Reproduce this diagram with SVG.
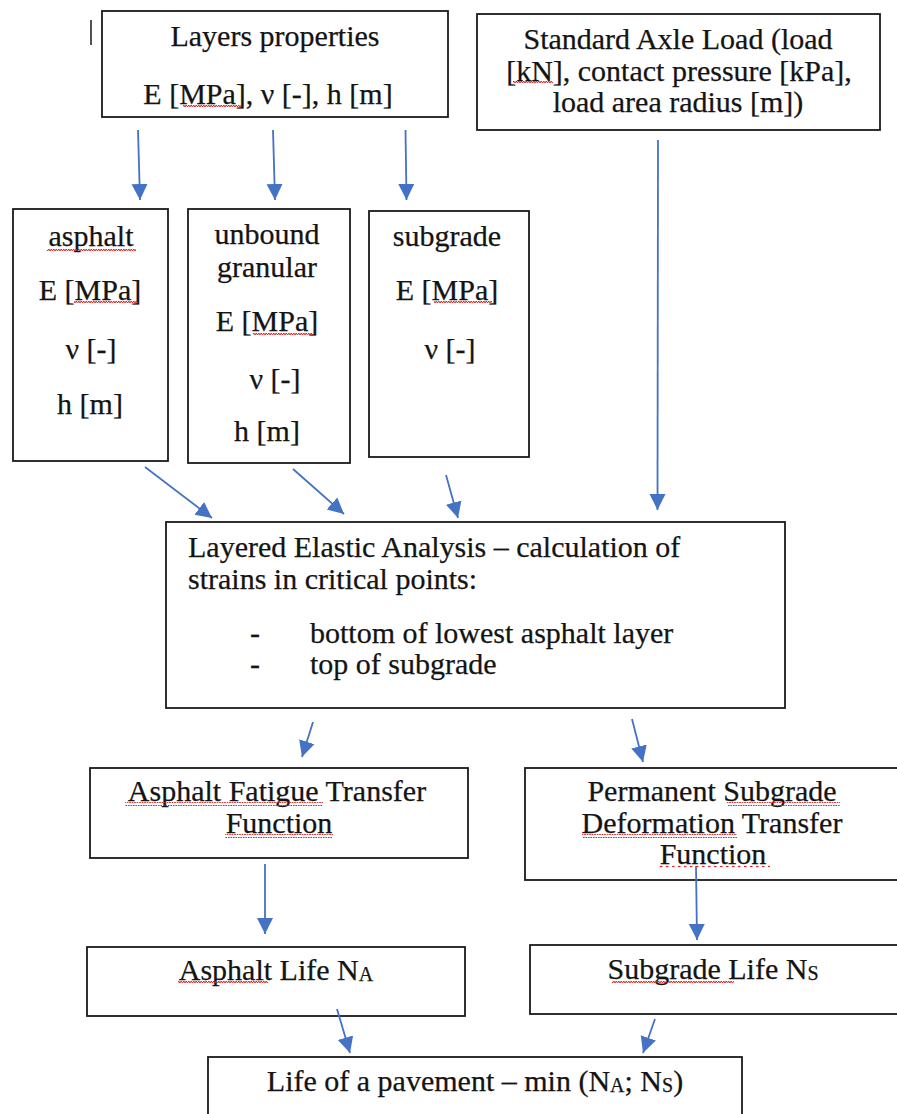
<svg xmlns="http://www.w3.org/2000/svg" width="897" height="1114" viewBox="0 0 897 1114">
<defs>
<style>
.box{fill:#fff;stroke:#1a1a1a;stroke-width:1.8}
.t{font-family:"Liberation Serif","Times New Roman",serif;font-size:30px;fill:#141414;stroke:#141414;stroke-width:0.25}
.c{text-anchor:middle}
.arr{stroke:#4472C4;stroke-width:1.8;fill:none;marker-end:url(#ah)}
.sub{font-size:20px}
.sq{fill:url(#squig)}
.sqd{fill:url(#squigd)}
</style>
<marker id="ah" viewBox="0 0 10 10" refX="10" refY="5" markerUnits="userSpaceOnUse" markerWidth="16" markerHeight="18" orient="auto">
<path d="M0,0 L10,5 L0,10 z" fill="#4472C4"/>
</marker>
<pattern id="squig" width="5" height="4" patternUnits="userSpaceOnUse">
<path d="M0,3 L1.25,1 L2.5,3 L3.75,1 L5,3" stroke="#e02020" stroke-width="1" fill="none"/>
</pattern>
<pattern id="squigd" width="6" height="4" patternUnits="userSpaceOnUse">
<path d="M0,2.5 L2.5,2.5" stroke="#e02020" stroke-width="1.2" fill="none"/>
</pattern>
</defs>
<rect width="897" height="1114" fill="#fff"/>
<line x1="91" y1="20" x2="91" y2="45" stroke="#1a1a1a" stroke-width="1.5"/>

<g id="layers">
<rect class="box" x="102" y="11" width="346" height="106"/>
<text class="t c" x="275" y="46">Layers properties</text>
<text class="t c" x="268" y="104">E [MPa], ν [-], h [m]</text>
</g>
<g id="axle">
<rect class="box" x="477" y="14" width="403" height="116"/>
<text class="t c" x="678" y="49">Standard Axle Load (load</text>
<text class="t c" x="679" y="81">[kN], contact pressure [kPa],</text>
<text class="t c" x="678" y="112">load area radius [m])</text>
</g>
<g id="asphalt">
<rect class="box" x="13" y="209" width="155" height="252"/>
<text class="t c" x="91" y="246">asphalt</text>
<text class="t c" x="90" y="300">E [MPa]</text>
<text class="t c" x="91" y="359">ν [-]</text>
<text class="t c" x="90" y="414">h [m]</text>
</g>
<g id="unbound">
<rect class="box" x="188" y="209" width="162" height="254"/>
<text class="t c" x="267" y="244">unbound</text>
<text class="t c" x="267" y="277">granular</text>
<text class="t c" x="267" y="331">E [MPa]</text>
<text class="t c" x="275" y="389">ν [-]</text>
<text class="t c" x="267" y="441">h [m]</text>
</g>
<g id="subgrade">
<rect class="box" x="369" y="211" width="160" height="246"/>
<text class="t c" x="447" y="246">subgrade</text>
<text class="t c" x="447" y="300">E [MPa]</text>
<text class="t c" x="450" y="359">ν [-]</text>
</g>
<g id="analysis">
<rect class="box" x="166" y="522" width="619" height="186"/>
<text class="t" x="188" y="557">Layered Elastic Analysis – calculation of</text>
<text class="t" x="188" y="589">strains in critical points:</text>
<text class="t" x="250" y="643">-</text>
<text class="t" x="310" y="643">bottom of lowest asphalt layer</text>
<text class="t" x="250" y="674">-</text>
<text class="t" x="310" y="674">top of subgrade</text>
</g>
<g id="fatigue">
<rect class="box" x="90" y="768" width="378" height="90"/>
<text class="t c" x="277" y="801">Asphalt Fatigue Transfer</text>
<text class="t c" x="279" y="833">Function</text>
</g>
<g id="permanent">
<rect class="box" x="525" y="768" width="380" height="112"/>
<text class="t c" x="712" y="801">Permanent Subgrade</text>
<text class="t c" x="712" y="833">Deformation Transfer</text>
<text class="t c" x="713" y="864">Function</text>
</g>
<g id="asphaltlife">
<rect class="box" x="87" y="947" width="378" height="69"/>
<text class="t c" x="276" y="980">Asphalt Life N<tspan class="sub" dy="1">A</tspan></text>
</g>
<g id="subgradelife">
<rect class="box" x="530" y="945" width="375" height="69"/>
<text class="t c" x="713" y="979">Subgrade Life N<tspan class="sub" dy="1">S</tspan></text>
</g>
<g id="life">
<rect class="box" x="208" y="1057" width="534" height="70"/>
<text class="t c" x="475" y="1091">Life of a pavement – min (N<tspan class="sub" dy="1">A</tspan><tspan dy="-1">; N</tspan><tspan class="sub" dy="1">S</tspan><tspan dy="-1">)</tspan></text>
</g>

<g id="connectors">
<line class="arr" x1="138" y1="130" x2="140" y2="200"/>
<line class="arr" x1="273" y1="130" x2="275" y2="200"/>
<line class="arr" x1="405.5" y1="130" x2="406.5" y2="200"/>
<line class="arr" x1="658" y1="140" x2="657.5" y2="510"/>
<line class="arr" x1="145" y1="467" x2="212" y2="518"/>
<line class="arr" x1="293" y1="469" x2="344" y2="514"/>
<line class="arr" x1="446" y1="475" x2="458" y2="518"/>
<line class="arr" x1="313" y1="722" x2="302" y2="757"/>
<line class="arr" x1="632" y1="719" x2="643" y2="762"/>
<line class="arr" x1="265" y1="864" x2="265" y2="934"/>
<line class="arr" x1="696" y1="866" x2="697" y2="940"/>
<line class="arr" x1="337" y1="1009" x2="350" y2="1053"/>
<line class="arr" x1="655" y1="1019" x2="643" y2="1053"/>
</g>

<g id="spellcheck">
<rect class="sq" x="183" y="105" width="58" height="4"/>
<rect class="sq" x="513" y="80" width="40" height="4"/>
<rect class="sq" x="47" y="247" width="89" height="4"/>
<rect class="sq" x="74" y="301" width="64" height="4"/>
<rect class="sq" x="253" y="332" width="60" height="4"/>
<rect class="sq" x="434" y="301" width="58" height="4"/>
<rect class="sq" x="125" y="802" width="198" height="4"/>
<rect class="sq" x="225" y="834" width="108" height="4"/>
<rect class="sq" x="727" y="802" width="113" height="4"/>
<rect class="sq" x="582" y="834" width="155" height="4"/>
<rect class="sqd" x="660" y="865" width="110" height="4"/>
<rect class="sq" x="178" y="981" width="90" height="4"/>
<rect class="sq" x="612" y="980" width="122" height="4"/>
</g>
</svg>
